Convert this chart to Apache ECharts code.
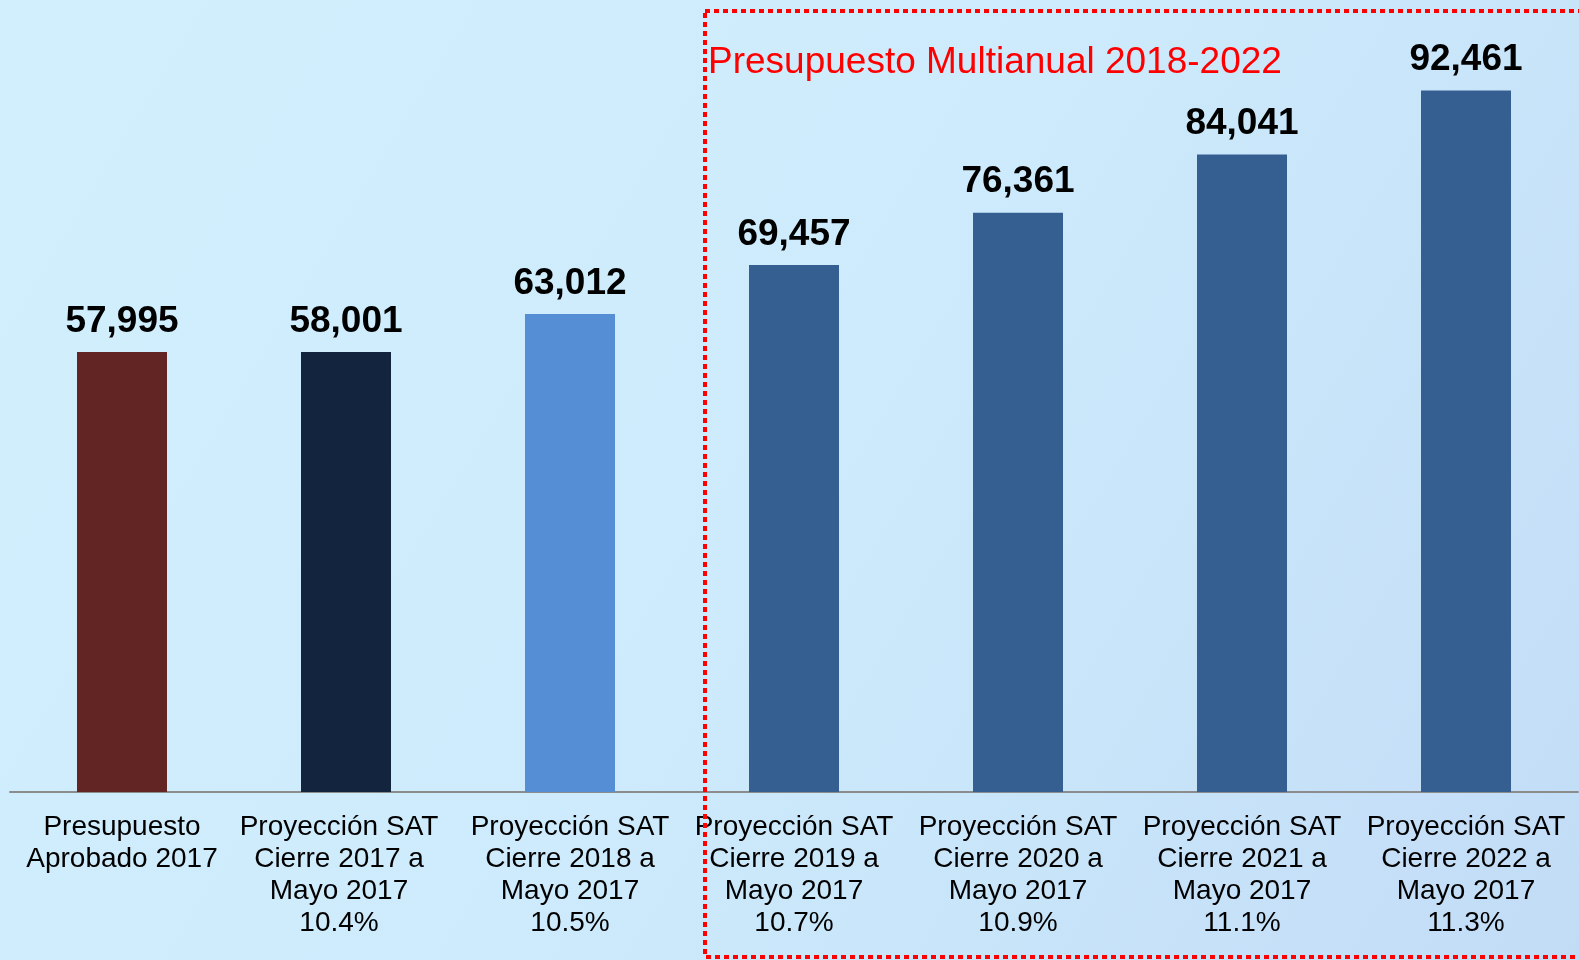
<!DOCTYPE html>
<html>
<head>
<meta charset="utf-8">
<script src="https://cdn.jsdelivr.net/npm/echarts@6/dist/echarts.min.js"></script>
<style>
  html, body { margin: 0; padding: 0; }
  #main { width: 1579px; height: 960px; }
</style>
</head>
<body>
<div id="main"></div>
<script>
// categorias (texto del eje) y valores
var categorias = [
  "Presupuesto\nAprobado 2017",
  "Proyección SAT\nCierre 2017 a\nMayo 2017\n10.4%",
  "Proyección SAT\nCierre 2018 a\nMayo 2017\n10.5%",
  "Proyección SAT\nCierre 2019 a\nMayo 2017\n10.7%",
  "Proyección SAT\nCierre 2020 a\nMayo 2017\n10.9%",
  "Proyección SAT\nCierre 2021 a\nMayo 2017\n11.1%",
  "Proyección SAT\nCierre 2022 a\nMayo 2017\n11.3%"
];
var valores = [57995, 58001, 63012, 69457, 76361, 84041, 92461];
var colores = ["#632424", "#13243f", "#558ed5", "#355f91", "#355f91", "#355f91", "#355f91"];
var titulo = "Presupuesto Multianual 2018-2022";

var chartDom = document.getElementById('main');
var myChart = echarts.init(chartDom);

var option = {
  backgroundColor: {
    type: 'linear', x: 0, y: 0, x2: 1, y2: 1,
    colorStops: [
      { offset: 0, color: '#d2effd' },
      { offset: 0.5, color: '#cdebfc' },
      { offset: 1, color: '#c2dcf6' }
    ]
  },
  animation: false,
  grid: { left: 10, top: 0, width: 1568, height: 792 },
  xAxis: {
    type: 'category',
    // la segunda etiqueta aparece algo corrida a la izquierda en el original
    data: categorias.map(function (c, i) {
      return i === 1 ? { value: c, textStyle: { padding: [0, 14, 0, 0] } } : c;
    }),
    axisLine: { show: true, lineStyle: { color: '#8c8c8c', width: 2 } },
    axisTick: { show: false },
    axisLabel: {
      interval: 0,
      color: '#000',
      fontFamily: 'Liberation Sans',
      fontSize: 28,
      lineHeight: 32,
      margin: 19
    }
  },
  yAxis: {
    type: 'value',
    min: 0,
    max: 104400,
    show: false,
    splitLine: { show: false }
  },
  series: [{
    type: 'bar',
    barWidth: 90,
    data: valores.map(function (v, i) {
      return { value: v, itemStyle: { color: colores[i] } };
    }),
    label: {
      show: true,
      position: 'top',
      distance: 12,
      color: '#000',
      fontFamily: 'Liberation Sans',
      fontWeight: 'bold',
      fontSize: 37,
      formatter: function (p) { return p.value.toLocaleString('en-US'); }
    }
  }],
  graphic: [
    {
      type: 'rect',
      shape: { x: 705, y: 11, width: 880, height: 946 },
      style: { fill: 'none', stroke: '#ff0000', lineWidth: 4, lineDash: [5, 4] },
      z: 100
    },
    {
      type: 'text',
      left: 708,
      top: 44,
      style: {
        text: titulo,
        fill: '#ff0000',
        font: '37px "Liberation Sans"'
      },
      z: 101
    }
  ]
};

myChart.setOption(option);
</script>
</body>
</html>
